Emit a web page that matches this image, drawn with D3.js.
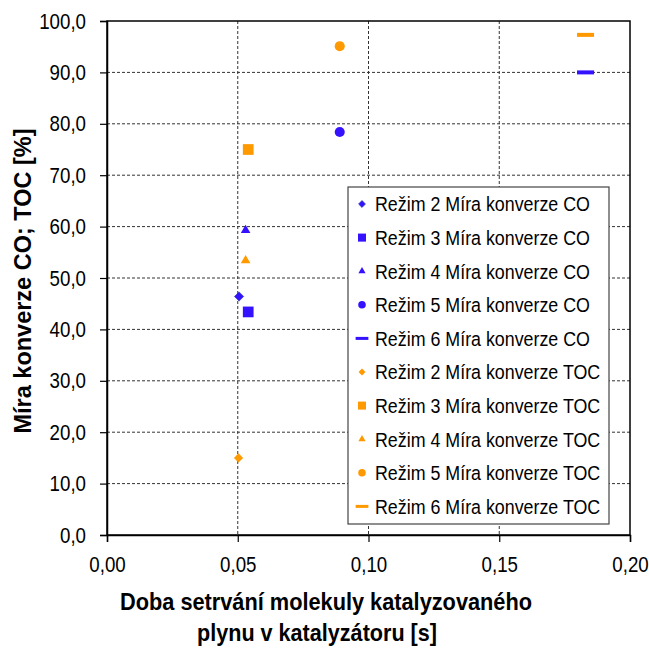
<!DOCTYPE html>
<html>
<head>
<meta charset="utf-8">
<script src="https://cdn.jsdelivr.net/npm/d3@7"></script>
<style>
  body { margin: 0; background: #fff; }
  text { font-family: "Liberation Sans", Arial, sans-serif; }
</style>
</head>
<body>
<svg id="chart" width="649" height="650"></svg>
<script>
// data
const regimes = ['Režim 2', 'Režim 3', 'Režim 4', 'Režim 5', 'Režim 6']
const markers = ['diamond', 'square', 'triangle', 'circle', 'dash']
const timeCO = [0.0505, 0.054, 0.053, 0.089, 0.183]
const convCO = [46.4, 43.4, 59.3, 78.4, 90.0]
const timeTOC = [0.0503, 0.054, 0.053, 0.089, 0.183]
const convTOC = [15.0, 75.0, 53.4, 95.1, 97.3]
const xTicks = [0, 0.05, 0.10, 0.15, 0.20]
const yTicks = [0, 10, 20, 30, 40, 50, 60, 70, 80, 90, 100]

const colorCO = '#3412ff'
const colorTOC = '#ff9900'

const svg = d3.select('#chart')
const margin = { left: 107, top: 21, right: 19, bottom: 115 }
const width = 649 - margin.left - margin.right
const height = 650 - margin.top - margin.bottom

const x = d3.scaleLinear().domain([0, 0.2]).range([0, width])
const y = d3.scaleLinear().domain([0, 100]).range([height, 0])
const fmt = d3.formatLocale({ decimal: ',', thousands: ' ', grouping: [3], currency: ['', ''] })

// the original uses a narrow font, squeeze the text sideways
function condense(sel, sx) {
    sel.each(function () {
        const t = d3.select(this)
        const tx = +t.attr('x') || 0
        const ty = +t.attr('y') || 0
        t.attr('x', 0).attr('y', 0).attr('transform', `translate(${tx},${ty}) scale(${sx},1)`)
    })
}

const g = svg.append('g').attr('transform', `translate(${margin.left},${margin.top})`)

// grid
g.append('g').selectAll('line').data(yTicks.slice(1, -1)).join('line')
    .attr('x1', 0).attr('x2', width)
    .attr('y1', d => y(d)).attr('y2', d => y(d))
    .attr('stroke', '#333').attr('stroke-width', 1).attr('stroke-dasharray', '3,2')
g.append('g').selectAll('line').data(xTicks.slice(1, -1)).join('line')
    .attr('x1', d => x(d)).attr('x2', d => x(d))
    .attr('y1', 0).attr('y2', height)
    .attr('stroke', '#333').attr('stroke-width', 1).attr('stroke-dasharray', '3,2')

// frame
g.append('rect')
    .attr('x', 0).attr('y', 0).attr('width', width).attr('height', height)
    .attr('fill', 'none').attr('stroke', '#000').attr('stroke-width', 1.5)

// axes
const yAxis = g.append('g')
    .call(d3.axisLeft(y).tickValues(yTicks).tickFormat(fmt.format('.1f')).tickSize(7).tickPadding(14))
const xAxis = g.append('g')
    .attr('transform', `translate(0,${height})`)
    .call(d3.axisBottom(x).tickValues(xTicks).tickFormat(fmt.format('.2f')).tickSize(7).tickPadding(14))
;[yAxis, xAxis].forEach(a => {
    a.select('.domain').attr('stroke', '#000').attr('stroke-width', 1.5)
    a.selectAll('.tick line').attr('stroke', '#000').attr('stroke-width', 1.2)
    a.selectAll('.tick text').attr('font-size', 22).attr('fill', '#000')
        .style('font-family', '"Liberation Sans", Arial, sans-serif')
    condense(a.selectAll('.tick text'), 0.85)
})

// markers
function drawMarker(sel, type, color, s) {
    if (type === 'dash') {
        sel.append('rect').attr('x', -8.5 * s).attr('y', -2 * s).attr('width', 17 * s).attr('height', 4 * s).attr('fill', color)
    } else if (type === 'diamond') {
        const r = 4.6 * s
        sel.append('path').attr('d', `M0,${-r}L${r},0L0,${r}L${-r},0Z`).attr('fill', color)
            .attr('stroke', color === colorCO ? '#2a3bb0' : 'none').attr('stroke-width', 0.7)
    } else {
        const map = { square: d3.symbolSquare, triangle: d3.symbolTriangle, circle: d3.symbolCircle }
        const size = { square: 115, triangle: 40, circle: 80 }[type]
        sel.append('path').attr('d', d3.symbol(map[type], size * s * s)).attr('fill', color)
    }
}

const pts = []
regimes.forEach((r, i) => pts.push({ t: timeCO[i], v: convCO[i], m: markers[i], c: colorCO }))
regimes.forEach((r, i) => pts.push({ t: timeTOC[i], v: convTOC[i], m: markers[i], c: colorTOC }))
pts.forEach(p => {
    const mg = g.append('g').attr('transform', `translate(${x(p.t)},${y(p.v)})`)
    drawMarker(mg, p.m, p.c, 1)
})

// legend
const legend = svg.append('g').attr('transform', 'translate(348,187)')
legend.append('rect').attr('width', 261).attr('height', 337)
    .attr('fill', '#fff').attr('stroke', '#444').attr('stroke-width', 1.2)
const entries = []
regimes.forEach((r, i) => entries.push({ label: r + ' Míra konverze CO', m: markers[i], c: colorCO }))
regimes.forEach((r, i) => entries.push({ label: r + ' Míra konverze TOC', m: markers[i], c: colorTOC }))
entries.forEach((e, i) => {
    const row = legend.append('g').attr('transform', `translate(14,${17 + i * 33.6})`)
    drawMarker(row, e.m, e.c, 0.75)
    const txt = row.append('text').attr('x', 13).attr('y', 0).attr('dy', '0.36em')
        .attr('font-size', 20.5).attr('fill', '#000').text(e.label)
    condense(txt, 0.87)
})

// titles
svg.append('text').attr('transform', `translate(31,${margin.top + height / 2 + 3}) rotate(-90)`)
    .attr('text-anchor', 'middle').attr('font-size', 24).attr('font-weight', 'bold')
    .attr('textLength', 305).attr('lengthAdjust', 'spacingAndGlyphs')
    .text('Míra konverze CO; TOC [%]')
svg.append('text').attr('x', 326).attr('y', 610)
    .attr('text-anchor', 'middle').attr('font-size', 24).attr('font-weight', 'bold')
    .attr('textLength', 412).attr('lengthAdjust', 'spacingAndGlyphs')
    .text('Doba setrvání molekuly katalyzovaného')
svg.append('text').attr('x', 317).attr('y', 641)
    .attr('text-anchor', 'middle').attr('font-size', 24).attr('font-weight', 'bold')
    .attr('textLength', 240).attr('lengthAdjust', 'spacingAndGlyphs')
    .text('plynu v katalyzátoru [s]')
</script>
</body>
</html>
